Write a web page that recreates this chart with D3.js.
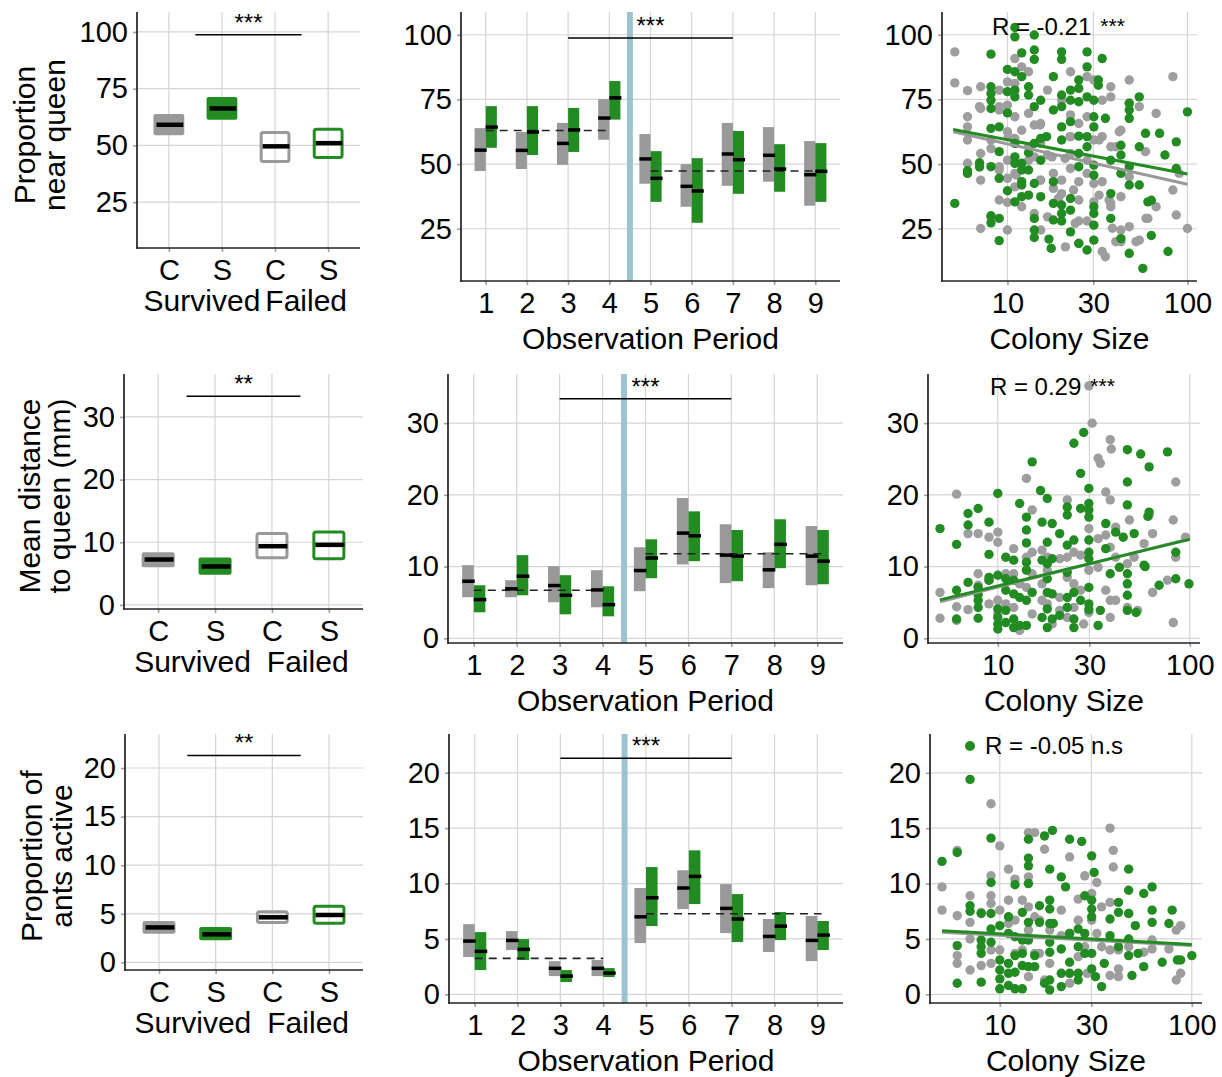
<!DOCTYPE html>
<html>
<head>
<meta charset="utf-8">
<script src="https://cdn.jsdelivr.net/npm/d3@7"></script>
<style>
body { margin: 0; background: #fff; }
</style>
</head>
<body>
<div id="chart"></div>
<script>
// ---- data ----
var periods = [1, 2, 3, 4, 5, 6, 7, 8, 9];
var groupTicks = ['C', 'S', 'C', 'S'];
var sizeTicks = [10, 30, 100];

var nearTicks = [25, 50, 75, 100];
var distTicks = [0, 10, 20, 30];
var activeTicks = [0, 5, 10, 15, 20];

// [lower, median, upper] : Survived C, Survived S, Failed C, Failed S
var nearOverall = [[54.5, 59.1, 63.9], [61.3, 66.3, 71.3], [42.3, 49.6, 56.4], [44.0, 51.0, 57.8]];
var distOverall = [[6.0, 7.25, 8.4], [4.8, 6.14, 7.57], [7.3, 9.37, 11.65], [7.14, 9.59, 11.86]];
var activeOverall = [[2.95, 3.6, 4.26], [2.27, 2.89, 3.64], [3.95, 4.64, 5.36], [3.88, 4.88, 5.94]];

// per observation period, [lower, median, upper]
var nearControl = [[47.3, 55.4, 63.9], [48.1, 55.3, 62.4], [49.7, 58.0, 65.9], [59.4, 67.8, 75.1], [42.4, 52.0, 61.6], [33.5, 41.4, 50.0], [41.6, 53.9, 65.9], [43.2, 53.4, 64.3], [33.9, 45.9, 58.9]];
var nearTreat = [[56.3, 64.3, 72.4], [53.5, 62.4, 72.4], [54.7, 63.2, 71.7], [67.2, 75.6, 82.1], [35.4, 44.5, 55.0], [27.3, 39.6, 52.3], [38.5, 51.7, 62.8], [39.3, 48.1, 57.7], [35.4, 47.2, 58.1]];
var distControl = [[5.73, 7.96, 10.2], [5.73, 6.9, 8.1], [5.03, 7.36, 10.06], [4.33, 6.75, 9.5], [6.57, 9.45, 12.7], [10.3, 14.67, 19.56], [7.7, 11.6, 15.9], [7.0, 9.55, 12.0], [7.4, 11.46, 15.65]];
var distTreat = [[3.63, 5.4, 7.4], [6.0, 8.66, 11.6], [3.35, 6.0, 8.8], [3.07, 4.7, 7.26], [8.38, 11.2, 13.8], [10.76, 14.3, 17.7], [7.96, 11.46, 15.1], [9.78, 13.1, 16.6], [7.54, 10.76, 15.1]];
var activeControl = [[3.37, 4.81, 6.34], [4.0, 4.87, 5.71], [1.65, 2.35, 3.0], [1.65, 2.35, 3.1], [4.63, 7.0, 9.6], [7.7, 9.6, 11.2], [5.53, 7.76, 9.95], [3.82, 5.23, 6.8], [3.0, 4.87, 7.07]];
var activeTreat = [[2.19, 3.88, 5.62], [3.1, 4.06, 4.99], [1.11, 1.65, 2.19], [1.56, 1.92, 2.37], [6.16, 8.72, 11.49], [8.15, 10.65, 13.0], [4.72, 6.8, 9.05], [4.9, 6.16, 7.43], [4.0, 5.35, 6.62]];

// mean before / after exposure (dashed lines)
var nearMeans = [63.0, 47.3];
var distMeans = [6.7, 11.8];
var activeMeans = [3.25, 7.27];

// significance bracket heights [left panel, middle panel]
var nearSig = [98.8, 98.7];
var distSig = [33.3, 33.4];
var activeSig = [21.3, 21.3];

// colony size vs value, [size, value]
var nearCtrlPts = [[5.1,93.4],[5.1,81.4],[6,78.4],[6,68.3],[6,64.4],[6,59.3],[6,50.3],[7.1,79.9],[7.1,71.5],[7.1,54.1],[7.1,43.8],[7.1,25.1],
  [8.1,59.3],[8.1,56],[8.1,29.6],[9,78.6],[9,70.9],[9,49],[9,36.1],[10,81.8],[10,72.8],[10,62.5],[10,51.5],[10,44.5],[10,35.2],[10,24.5],
  [11,90.8],[11,81.2],[11,68.3],[11,59.9],[11,46.4],[11,41.2],[12,87.6],[12,63.1],[12,33.5],[13.1,85.7],[13.1,69.6],[13.1,56.7],[13.1,51.5],
  [14.1,65.1],[14.1,52.8],[14.1,30.9],[15.3,65.7],[15.3,58],[15.3,43.8],[15.3,24.5],[16.7,78.6],[16.7,53.5],[16.7,29.6],[18,46.4],[18,40.6],
  [20,74.7],[20,43.8],[20,38.6],[21,18],[22.4,85.7],[22.4,69],[22.4,60.6],[22.4,54.1],[22.4,48.3],[24.9,65.7],[24.9,43.2],[24.9,36.1],[24.9,28],
  [27.7,83.8],[27.7,68.3],[27.7,51.5],[27.7,46.4],[27.7,28],[30.2,82.5],[30.2,59.3],[30.2,42.5],[30.2,35.4],[33.6,74.7],[33.6,60.6],[33.6,43.2],
  [33.6,16.2],[35,14.2],[37.5,79.9],[37.5,76],[37.5,56.7],[37.5,34.8],[37.5,33.5],[42.7,63.1],[42.7,37.4],[42.7,24.5],[42.7,20],[47.5,82.5],
  [47.5,73.5],[47.5,45.1],[47.5,25.8],[54,72.2],[54,20.6],[58.5,54.8],[60.3,29],[67,69.6],[67,33.5],[83,83.8],[83,40],[86.7,30.3],[90,46.4],[100,25.1],
  [7,72.2],[9,72.2],[9,47.7],[10.1,60.6],[11.2,45.8],[15.2,65.1],[15.2,43.8],[17.7,52.8],[22.3,60.6],[20.9,52.2],[23.3,40],[32.3,59.3],
  [36.7,36.1],[41.8,62.5],[40,56.7],[19.2,36.8],[23.8,27.1],[32.3,38],[38.3,25.2],[40,20],[24.9,19.4],[51.8,20],[58.9,29]];
var nearTreatPts = [[5.1,34.8],[6,47.4],[6,46.4],[7,50.5],[7,48.9],[8.1,92.5],[8.1,79.9],[8.1,77.3],[8.1,74.7],[8.1,71.5],[8.1,63.8],[8.1,49],[8.1,30],[8.1,27.3],
  [9,64.4],[9,54.8],[9,44.5],[9,29],[9,20.4],[10,86.6],[10,78],[10,69.8],[10,39.7],[11,102.8],[11,99.2],[11,85.7],[11,78.6],[11,76],[11,58],[11,52.8],
  [11,50.3],[11,35.4],[12,93],[12,83.8],[12,50.3],[12,47.7],[12,43.2],[12,41.9],[12,37.4],[13.1,79.9],[13.1,76.7],[13.1,54.4],[13.1,47.7],[13.1,38],
  [14.1,99.9],[14.1,94.1],[14.1,90.5],[14.1,72.2],[14.1,58],[14.1,42.5],[14.1,29],[14.1,24.5],[14.1,21.6],[15.3,74.7],[15.3,59.9],[15.3,51.5],[15.3,37.4],
  [16.5,60.6],[17,21],[17.5,17.4],[18,83.8],[18,70.9],[18,43.2],[18,34.8],[18,28.4],[20,93.4],[20,90.5],[20,76.7],[20,72.2],[20,64.4],[20,59.3],
  [20,34.2],[20,30.9],[20,28],[22.4,78.6],[22.4,74.7],[22.4,66.4],[22.4,36.7],[22.4,32.2],[22.4,23.8],[24.9,82.5],[24.9,79.3],[24.9,74.1],[24.9,60.8],
  [24.9,54.1],[24.9,49],[24.9,19.3],[27.7,93.4],[27.7,87.6],[27.7,76],[27.7,60.6],[27.7,56.7],[27.7,16.8],[30.2,74.7],[30.2,68.3],[30.2,64.4],[30.2,49.6],
  [30.2,45.7],[30.2,33.5],[30.2,30.9],[30.2,26.4],[30.2,20.6],[32,82.5],[32,80.5],[33.6,90.8],[35,67.7],[37.5,51.5],[37.5,38.6],[37.5,29],[42.7,57.3],
  [42.7,53.5],[42.7,46.4],[42.7,21.2],[47.5,73.5],[47.5,70.9],[47.5,67.7],[47.5,49],[47.5,41.9],[47.5,15.5],[54,76],[54,56.7],[54,41.9],[56.5,9.7],
  [58.5,61.9],[60.3,35.4],[63,36],[63,22.4],[70,61.9],[75,53.5],[78,16.2],[86.7,58.6],[86.7,48.3],[100,70.2]];

var distCtrlPts = [[5,6.4],[5,2.8],[6.1,20.1],[6.1,4.4],[6.1,2.5],[7,14.6],[7,4],[7.9,14.6],[7.9,9],[7.9,7.4],[9,14.1],[9,8.1],[9,4.8],
  [10,14.8],[10,13.4],[10,5.3],[10,3.4],[11,9],[11,4.8],[12.1,12.5],[12.1,9],[12.1,4.3],[13,7.6],[13,1.1],[14.1,22.3],[14.1,11.3],[14.1,7.1],
  [15.1,17.9],[15.1,12],[15.1,9],[15.1,3.4],[17,12.3],[17,7.6],[17,5.3],[18.1,11.3],[18.1,9.5],[18.1,4.8],[19.2,2],[21,11.1],[21,5.7],[21,3.9],
  [23,19.3],[23,11.3],[23,8.5],[23,2.9],[24.9,12],[24.9,7.6],[24.9,4.3],[27,11.6],[27,6.7],[28,2],[29.8,35.2],[29.8,15.3],[29.8,9.5],[29.8,3.6],
  [31,30],[33.3,25.1],[34.2,24.4],[33.3,13.9],[33.3,9.9],[36.5,20.4],[36.5,14.4],[36.5,6.7],[38.5,27.7],[39,26.4],[38.5,19.3],[38.5,12.7],
  [38.5,5.3],[38.5,2.9],[41.1,15.5],[41.1,11.3],[41.1,5.3],[47.3,10.4],[48.5,16.5],[47.3,4.3],[51.3,11.3],[53.5,3.9],[57.8,13.2],[61.4,17.2],
  [64,14.6],[64,6.4],[76.5,8.1],[82,16.5],[82,2.2],[84.5,21.8],[84.5,11.3],[95,14.1]];
var distTreatPts = [[5,15.3],[6.1,13.1],[6.1,6.7],[6.1,2.7],[7,17.4],[7,15.8],[7,7.8],[7.9,18.1],[7.9,7.1],[7.9,6.1],[7.9,5.3],[7.9,4.3],[7.9,2.8],
  [9,16.2],[9,11.7],[9,8.5],[9,8.1],[10,20.2],[10,8.8],[10,4.1],[10,2.9],[10,2],[10,1.3],[11,11.3],[11,8.3],[11,6.7],[11,3.9],[11,2.2],
  [12.1,10.9],[12.1,8.1],[12.1,6.2],[12.1,2.7],[12.1,1.5],[13,18.8],[13,5.7],[13,1.8],[14.1,16.9],[14.1,15.1],[14.1,13.3],[14.1,10.6],[14.1,9.5],
  [14.1,5.3],[14.1,1.8],[15.1,24.6],[15.1,6.4],[16.7,20.6],[17,16.2],[17,10.9],[17,2.9],[18.1,19.5],[18.1,13.4],[18.1,10.4],[18.1,8.3],[18.1,6.4],
  [18.1,4.1],[18.1,1.5],[19.2,16],[19.2,11.1],[19.2,6.2],[19.2,2.7],[21,14.6],[21,3.2],[23,18.3],[23,17.2],[23,13],[23,9.2],[23,5.7],[23,4.3],
  [24.9,27.2],[24.9,13.7],[24.9,6.4],[24.9,2.7],[24.9,1.5],[27,23],[27,18.1],[27,5.3],[28,28.7],[29.8,20.9],[29.8,18.8],[29.8,17.9],[29.8,16.9],
  [29.8,13.7],[29.8,12],[29.8,11.1],[29.8,7.1],[29.8,4.8],[29.8,4],[33.3,1.8],[34.2,3.9],[36.5,16],[36.5,12.5],[38.5,9],[41.1,14.8],[43,9.9],
  [45,14.1],[47.3,26.3],[47.3,21.8],[47.3,18.6],[47.3,9],[47.3,7.6],[47.3,6],[47.3,3.9],[51.3,14.6],[52.5,3.6],[55.5,25.7],[57.8,10.2],[58.5,10],
  [60.5,17],[61.4,23.9],[61.4,17.6],[69.2,7.4],[76.5,26],[84.5,12],[84.5,8.3],[99,7.6]];

var activeCtrlPts = [[5,9.7],[5,7.6],[6,13],[6,7.1],[6,3.5],[6,2.8],[7,8.9],[7,6.5],[7,5],[7,2.2],[8,7.4],[8,2.6],[9,17.2],[9,10.7],[9,8.9],
  [9,8.2],[9,4],[9,2.8],[10,13.4],[10,7.6],[10,4],[11.1,11.3],[11.1,8.5],[11.1,6.4],[12,10.4],[12,6.7],[12,3.7],[13.1,8.5],[13.1,4],[14.1,14.6],
  [14.1,10.6],[14.1,7.9],[14.1,5.8],[14.1,1.6],[15.2,14.6],[15.2,7],[15.2,3.7],[16.1,6.7],[16.1,3.7],[17.1,13.1],[17.1,1.3],[18.2,5.8],[18.2,2.8],
  [20.9,7.6],[20.9,5.3],[23.1,12.4],[23.1,5.5],[23.1,1],[25.6,8.6],[25.6,6.7],[25.6,3.4],[27.7,10.7],[27.7,4.3],[28.5,1.9],[30.1,9.1],[30.1,6.7],
  [32,10.1],[32,5.5],[33.9,7.9],[33.9,4.3],[37.5,15],[39,11.5],[39,13],[37.5,8.3],[37.5,4],[37.5,1.7],[41.5,4],[41.5,2.3],[41.5,1.6],[46.9,7.3],
  [46.9,4.3],[56.2,3.8],[62.1,4.9],[62.1,4.1],[76,4.1],[83,5.8],[83,1.3],[87.5,6.2],[87.5,1.9]];
var activeTreatPts = [[5,12],[6,12.8],[6,4.4],[6,1],[7,19.4],[7,8],[7,7.5],[8,7.3],[8,4.9],[8,4.3],[8,3.7],[8,1.1],[9,14.1],[9,10.1],[9,7.3],
  [9,5.9],[9,4.7],[10,6.2],[10,3.1],[10,2.2],[10,1.4],[10,0.5],[11.1,7],[11.1,5.5],[11.1,2.8],[11.1,1.9],[11.1,0.8],[12,9.9],[12,5.2],[12,3.5],
  [12,2],[12,0.5],[13.1,7.4],[13.1,4.9],[13.1,3.7],[13.1,2.6],[13.1,0.5],[14.1,14],[14.1,12.3],[14.1,11.6],[14.1,10],[14.1,6.5],[14.1,4.9],
  [14.1,2.5],[15.2,3.5],[15.2,2.5],[16.1,8],[16.1,6.5],[17.1,14.3],[17.1,1],[18.2,11.3],[18.2,8.5],[18.2,7.7],[18.2,6.4],[18.2,4.7],[18.2,3.8],
  [18.2,1.3],[18.2,0.4],[18.8,14.8],[19,6.4],[20.9,10.6],[20.9,4.1],[20.9,1.9],[20.9,0.7],[22,9.7],[23.1,14],[23.1,5.5],[23.1,2.9],[23.1,1.9],
  [25.6,5.9],[25.6,4.3],[25.6,1.9],[25.6,1.3],[26.7,13.8],[27.7,8.9],[27.7,5.5],[27.7,3.7],[30.1,12.5],[31,11],[30.1,8.5],[30.1,7.7],[30.1,7],
  [30.1,3.7],[30.1,2.3],[31.5,1.6],[33.9,0.7],[35,2.8],[37.5,6.8],[37.5,5.3],[41.5,8.3],[41.5,7.4],[41.5,4.3],[46.9,11.3],[46.9,9.4],[46.9,7.3],
  [46.9,5],[46.9,3.5],[48.8,1.7],[50.8,6.2],[52.5,3.7],[56.2,9.1],[56.2,2.5],[62.1,9.7],[62.1,7.6],[62.1,6.5],[70.1,2.9],[76,6.4],[79,7.6],
  [84.1,3.1],[87.5,3.1],[100,3.5]];

// fitted lines: value at colony size 5 and at 100, [control, treated]
var fitRange = [5, 100];
var nearFit = [[62.5, 42.2], [63.4, 46.2]];
var distFit = [[5.1, 13.9], [5.36, 13.8]];
var activeFit = [[5.6, 4.4], [5.75, 4.5]];

// ---- style & layout ----
var FONT = '"Liberation Sans", Arial, Helvetica, sans-serif';
var gridCol = '#d5d5d5';
var grey = '#999999';
var ptGrey = '#9e9e9e';
var green = '#228b22';
var blue = '#9dc3d0';
var tickFont = 29, titleFont = 30;

var rows = [
  {title: ['Proportion', 'near queen'], titleX: [35, 65], titleY: 135, dom: [4.8, 108.8], ticks: nearTicks,
   overall: nearOverall, ctrl: nearControl, treat: nearTreat, means: nearMeans, sig: nearSig, sigLab: '***',
   ctrlPts: nearCtrlPts, treatPts: nearTreatPts, fit: nearFit, cor: 'R = -0.21', corSig: '***', corAt: [8.2, 100], outGap: 2.5},
  {title: ['Mean distance', 'to queen (mm)'], titleX: [40, 70], titleY: 496, dom: [-0.65, 36.85], ticks: distTicks,
   overall: distOverall, ctrl: distControl, treat: distTreat, means: distMeans, sig: distSig, sigLab: '**',
   ctrlPts: distCtrlPts, treatPts: distTreatPts, fit: distFit, cor: 'R = 0.29', corSig: '***', corAt: [9.1, 33.9], outGap: 8},
  {title: ['Proportion of', 'ants active'], titleX: [42, 72], titleY: 856, dom: [-0.78, 23.5], ticks: activeTicks,
   overall: activeOverall, ctrl: activeControl, treat: activeTreat, means: activeMeans, sig: activeSig, sigLab: '**',
   ctrlPts: activeCtrlPts, treatPts: activeTreatPts, fit: activeFit, cor: 'R = -0.05 n.s', corSig: null, corAt: null, outGap: 8}
];

var leftPanels = [{x0: 137, x1: 360, y0: 12, y1: 248}, {x0: 124, x1: 363, y0: 374, y1: 609}, {x0: 125, x1: 363, y0: 734, y1: 970}];
var midPanels = [{x0: 461, x1: 840, y0: 12, y1: 281}, {x0: 448, x1: 843, y0: 374, y1: 643}, {x0: 449, x1: 843, y0: 734, y1: 1003}];
var scatPanels = [{x0: 942, x1: 1197, y0: 12, y1: 281}, {x0: 928, x1: 1200, y0: 374, y1: 643}, {x0: 930, x1: 1202, y0: 734, y1: 1003}];

var svg = d3.select('#chart').append('svg')
    .attr('width', 1222)
    .attr('height', 1077)
    .style('background', '#fff');

function styleAxis(g) {
    g.select('.domain').remove();
    g.selectAll('.tick line').attr('stroke', '#a0a0a0').attr('stroke-width', 1.6);
    g.selectAll('.tick text').attr('fill', '#000').attr('font-size', tickFont).attr('font-family', FONT);
}

function grid(g, x, y, xs, ys, p) {
    g.selectAll(null).data(xs).enter().append('line')
        .attr('x1', function(d){ return x(d); }).attr('x2', function(d){ return x(d); })
        .attr('y1', p.y0).attr('y2', p.y1)
        .attr('stroke', gridCol).attr('stroke-width', 1.2);
    g.selectAll(null).data(ys).enter().append('line')
        .attr('x1', p.x0).attr('x2', p.x1)
        .attr('y1', function(d){ return y(d); }).attr('y2', function(d){ return y(d); })
        .attr('stroke', gridCol).attr('stroke-width', 1.2);
}

function frame(g, x, y, xticks, fmt, ticks, p, pad) {
    var ya = g.append('g').attr('transform', 'translate(' + p.x0 + ',0)')
        .call(d3.axisLeft(y).tickValues(ticks).tickSize(4).tickPadding(5));
    styleAxis(ya);
    var xa = g.append('g').attr('transform', 'translate(0,' + p.y1 + ')')
        .call(d3.axisBottom(x).tickValues(xticks).tickFormat(fmt).tickSize(4).tickPadding(pad));
    styleAxis(xa);
    g.append('line').attr('x1', p.x0).attr('x2', p.x0).attr('y1', p.y0).attr('y2', p.y1 + 0.8)
        .attr('stroke', '#222').attr('stroke-width', 1.7);
    g.append('line').attr('x1', p.x0 - 0.8).attr('x2', p.x1).attr('y1', p.y1).attr('y2', p.y1)
        .attr('stroke', '#222').attr('stroke-width', 1.7);
}

function sigBracket(g, x, y, from, to, at, level, label) {
    g.append('line').attr('x1', x(from)).attr('x2', x(to)).attr('y1', y(level)).attr('y2', y(level))
        .attr('stroke', '#000').attr('stroke-width', 1.5);
    g.append('text').attr('x', x(at)).attr('y', y(level) - 4)
        .attr('text-anchor', 'middle').attr('font-family', FONT).attr('font-size', 24)
        .text(label);
}

// left column: overall comparison
function drawLeft(row, p) {
    var g = svg.append('g');
    var x = d3.scaleLinear().domain([0.4, 4.6]).range([p.x0, p.x1]);
    var y = d3.scaleLinear().domain(row.dom).range([p.y1, p.y0]);
    grid(g, x, y, [1, 2, 3, 4], row.ticks, p);

    var hw = 0.29;
    var cols = [grey, green, grey, green];
    g.selectAll('.box').data(row.overall).enter().append('rect')
        .attr('x', function(d, i){ return x(i + 1 - hw) + (i < 2 ? 0 : 1.5); })
        .attr('width', function(d, i){ return x(1 + hw) - x(1 - hw) - (i < 2 ? 0 : 3); })
        .attr('y', function(d, i){ return y(d[2]) + (i < 2 ? 0 : 1.5); })
        .attr('height', function(d, i){ return y(d[0]) - y(d[2]) - (i < 2 ? 0 : 3); })
        .attr('rx', 2)
        .attr('fill', function(d, i){ return i < 2 ? cols[i] : 'none'; })
        .attr('stroke', function(d, i){ return i < 2 ? 'none' : cols[i]; })
        .attr('stroke-width', 3);
    g.selectAll('.med').data(row.overall).enter().append('line')
        .attr('x1', function(d, i){ return x(i + 1 - hw) + 3; })
        .attr('x2', function(d, i){ return x(i + 1 + hw) - 1; })
        .attr('y1', function(d){ return y(d[1]); }).attr('y2', function(d){ return y(d[1]); })
        .attr('stroke', '#000').attr('stroke-width', 4.5);

    sigBracket(g, x, y, 1.5, 3.5, 2.5, row.sig[0], row.sigLab);
    frame(g, x, y, [1, 2, 3, 4], function(d, i){ return groupTicks[i]; }, row.ticks, p, 7.5);

    // outcome labels under the C/S ticks
    var mid = x(2.77);
    g.append('text').attr('x', mid - row.outGap).attr('y', p.y1 + 63).attr('text-anchor', 'end')
        .attr('font-family', FONT).attr('font-size', titleFont).text('Survived');
    g.append('text').attr('x', mid + row.outGap).attr('y', p.y1 + 63).attr('text-anchor', 'start')
        .attr('font-family', FONT).attr('font-size', titleFont).text('Failed');

    row.title.forEach(function(t, i){
        g.append('text')
            .attr('transform', 'translate(' + row.titleX[i] + ',' + row.titleY + ') rotate(-90)')
            .attr('text-anchor', 'middle').attr('font-family', FONT).attr('font-size', titleFont)
            .text(t);
    });
}

// middle column: per observation period
function drawMid(row, p) {
    var g = svg.append('g');
    var x = d3.scaleLinear().domain([0.4, 9.6]).range([p.x0, p.x1]);
    var y = d3.scaleLinear().domain(row.dom).range([p.y1, p.y0]);
    grid(g, x, y, periods, row.ticks, p);

    g.append('line').attr('x1', x(4.5)).attr('x2', x(4.5)).attr('y1', p.y0).attr('y2', p.y1)
        .attr('stroke', blue).attr('stroke-width', 6);

    var bw = 0.27;
    function boxes(data, off, col) {
        g.selectAll(null).data(data).enter().append('rect')
            .attr('x', function(d, i){ return x(periods[i] + off); })
            .attr('width', x(1 + bw) - x(1))
            .attr('y', function(d){ return y(d[2]); })
            .attr('height', function(d){ return y(d[0]) - y(d[2]); })
            .attr('fill', col);
    }
    boxes(row.ctrl, -bw, grey);
    boxes(row.treat, 0, green);

    var means = [[1, 4, row.means[0]], [5, 9.1, row.means[1]]];
    g.selectAll(null).data(means).enter().append('line')
        .attr('x1', function(d){ return x(d[0]); }).attr('x2', function(d){ return x(d[1]); })
        .attr('y1', function(d){ return y(d[2]); }).attr('y2', function(d){ return y(d[2]); })
        .attr('stroke', '#222').attr('stroke-width', 1.6).attr('stroke-dasharray', '8,6');

    function medians(data, off) {
        g.selectAll(null).data(data).enter().append('line')
            .attr('x1', function(d, i){ return x(periods[i] + off); })
            .attr('x2', function(d, i){ return x(periods[i] + off + bw) + 1; })
            .attr('y1', function(d){ return y(d[1]); }).attr('y2', function(d){ return y(d[1]); })
            .attr('stroke', '#000').attr('stroke-width', 3.5);
    }
    medians(row.ctrl, -bw);
    medians(row.treat, 0);

    sigBracket(g, x, y, 3, 7, 5, row.sig[1], '***');
    frame(g, x, y, periods, d3.format('d'), row.ticks, p, 7);

    g.append('text').attr('x', (p.x0 + p.x1) / 2).attr('y', p.y1 + 68)
        .attr('text-anchor', 'middle').attr('font-family', FONT).attr('font-size', titleFont)
        .text('Observation Period');
}

// right column: colony size scatter
function drawScatter(row, p) {
    var g = svg.append('g');
    var x = d3.scaleLog().domain([4.33, 113]).range([p.x0, p.x1]);
    var y = d3.scaleLinear().domain(row.dom).range([p.y1, p.y0]);
    grid(g, x, y, sizeTicks, row.ticks, p);

    function pts(data, col) {
        g.selectAll(null).data(data).enter().append('circle')
            .attr('cx', function(d){ return x(d[0]); })
            .attr('cy', function(d){ return y(d[1]); })
            .attr('r', 4.7)
            .attr('fill', col);
    }
    pts(row.ctrlPts, ptGrey);
    pts(row.treatPts, green);

    var line = d3.line().x(function(d){ return x(d[0]); }).y(function(d){ return y(d[1]); });
    [[row.fit[0], grey], [row.fit[1], green]].forEach(function(f){
        g.append('path')
            .attr('d', line([[fitRange[0], f[0][0]], [fitRange[1], f[0][1]]]))
            .attr('fill', 'none').attr('stroke', f[1]).attr('stroke-width', 3);
    });

    if (row.corAt) {
        var t = g.append('text').attr('x', x(row.corAt[0])).attr('y', y(row.corAt[1]))
            .attr('font-family', FONT).attr('font-size', 24).text(row.cor);
        t.append('tspan').attr('dx', 9).attr('dy', -2).attr('font-size', 21).text(row.corSig);
    } else {
        g.append('circle').attr('cx', p.x0 + 40).attr('cy', p.y0 + 12).attr('r', 5).attr('fill', green);
        g.append('text').attr('x', p.x0 + 55).attr('y', p.y0 + 20)
            .attr('font-family', FONT).attr('font-size', 24).text(row.cor);
    }

    frame(g, x, y, sizeTicks, d3.format('d'), row.ticks, p, 7);

    g.append('text').attr('x', (p.x0 + p.x1) / 2).attr('y', p.y1 + 68)
        .attr('text-anchor', 'middle').attr('font-family', FONT).attr('font-size', titleFont)
        .text('Colony Size');
}

rows.forEach(function(row, i){
    drawLeft(row, leftPanels[i]);
    drawMid(row, midPanels[i]);
    drawScatter(row, scatPanels[i]);
});
</script>
</body>
</html>
